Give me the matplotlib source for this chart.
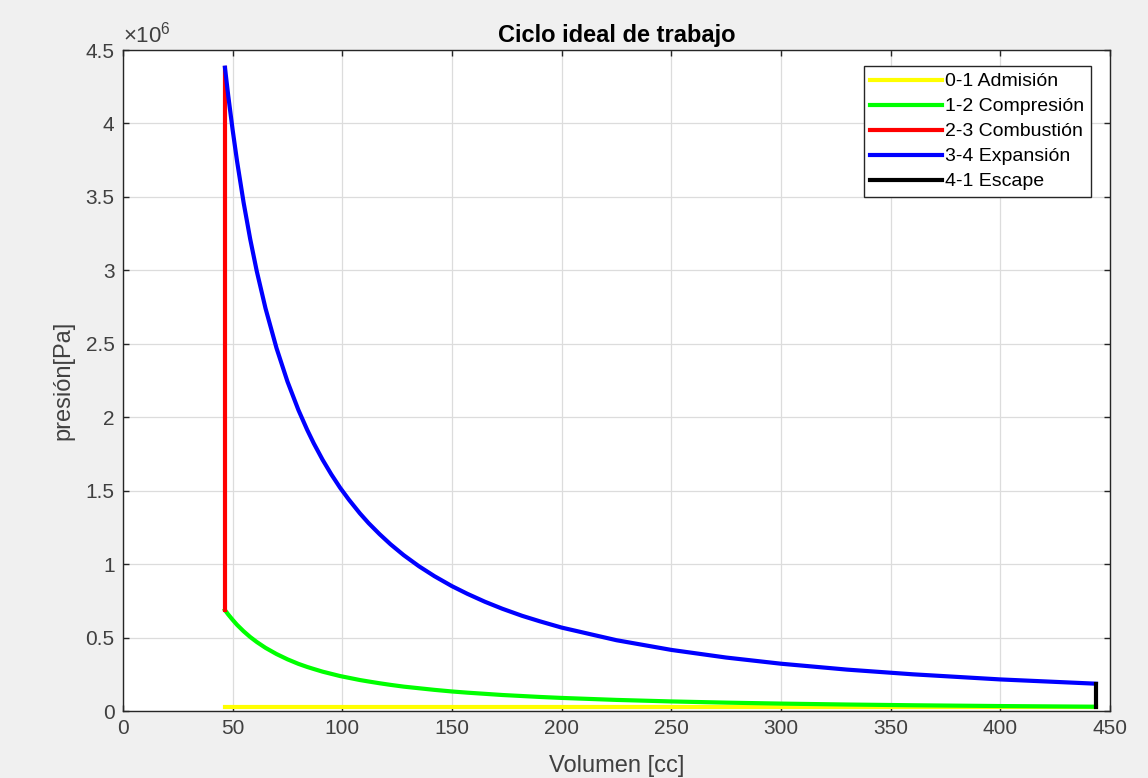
import matplotlib
matplotlib.use("Agg")
import matplotlib.pyplot as plt
from matplotlib.ticker import FixedLocator, FuncFormatter

plt.rcParams['font.family'] = ['Liberation Sans', 'DejaVu Sans']
plt.rcParams['mathtext.fontset'] = 'custom'
plt.rcParams['mathtext.rm'] = 'Liberation Sans'
plt.rcParams['mathtext.it'] = 'Liberation Sans'

# Volumes [cc] and pressures [Pa] of each stage of the cycle
vol_admision = [46.5, 443.6]
pres_admision = [0.0292e6, 0.0292e6]

vol_curve = [46.5, 48, 50, 52, 55, 58, 61, 65, 70, 75, 80, 84, 87, 91, 95,
             99, 103, 108, 112, 117, 122, 128, 135, 142, 150, 157, 165,
             173, 182, 190, 200, 225, 250, 275, 300, 330, 360, 400, 443.6]
pres_compresion = [0.687e6, 0.657e6, 0.621e6, 0.587e6, 0.543e6, 0.504e6,
                   0.470e6, 0.430e6, 0.388e6, 0.352e6, 0.321e6, 0.300e6,
                   0.286e6, 0.268e6, 0.253e6, 0.238e6, 0.226e6, 0.211e6,
                   0.201e6, 0.189e6, 0.178e6, 0.166e6, 0.155e6, 0.144e6,
                   0.133e6, 0.125e6, 0.117e6, 0.109e6, 0.102e6, 0.0958e6,
                   0.0891e6, 0.0756e6, 0.0652e6, 0.0571e6, 0.0505e6,
                   0.0442e6, 0.0392e6, 0.0338e6, 0.0292e6]

vol_combustion = [46.5, 46.5]
pres_combustion = [0.687e6, 4.38e6]

pres_expansion = [4.380e6, 4.189e6, 3.957e6, 3.745e6, 3.462e6, 3.214e6,
                  2.995e6, 2.741e6, 2.471e6, 2.243e6, 2.049e6, 1.914e6,
                  1.822e6, 1.711e6, 1.611e6, 1.520e6, 1.439e6, 1.346e6,
                  1.279e6, 1.204e6, 1.135e6, 1.061e6, 0.985e6, 0.918e6,
                  0.850e6, 0.798e6, 0.744e6, 0.696e6, 0.648e6, 0.611e6,
                  0.568e6, 0.482e6, 0.416e6, 0.364e6, 0.322e6, 0.282e6,
                  0.250e6, 0.215e6, 0.186e6]

vol_escape = [443.6, 443.6]
pres_escape = [0.186e6, 0.0292e6]

labels = ['0-1 Admisión', '1-2 Compresión', '2-3 Combustión',
          '3-4 Expansión', '4-1 Escape']
colors = ['#FFFF00', '#00FF00', '#FF0000', '#0000FF', '#000000']

x_ticks = [0, 50, 100, 150, 200, 250, 300, 350, 400, 450]
y_ticks = [0, 0.5e6, 1e6, 1.5e6, 2e6, 2.5e6, 3e6, 3.5e6, 4e6, 4.5e6]

fig = plt.figure(figsize=(11.48, 7.78), dpi=100, facecolor='#F0F0F0')
ax = fig.add_axes([0.1071, 0.0861, 0.8598, 0.8496])
ax.set_facecolor('white')

lw = 3.0
style = dict(lw=lw, solid_joinstyle='round')
ax.plot(vol_admision, pres_admision, color=colors[0], label=labels[0], zorder=3, **style)
ax.plot(vol_curve, pres_compresion, color=colors[1], label=labels[1], zorder=4, **style)
ax.plot(vol_combustion, pres_combustion, color=colors[2], label=labels[2], zorder=5, **style)
ax.plot(vol_curve, pres_expansion, color=colors[3], label=labels[3], zorder=6, **style)
ax.plot(vol_escape, pres_escape, color=colors[4], label=labels[4], zorder=7, **style)

ax.set_xlim(0, 450)
ax.set_ylim(0, 4.5e6)
ax.xaxis.set_major_locator(FixedLocator(x_ticks))
ax.yaxis.set_major_locator(FixedLocator(y_ticks))
ax.yaxis.set_major_formatter(FuncFormatter(lambda v, p: '%g' % (v / 1e6)))

axis_col = '#262626'
ax.grid(True, color='#DCDCDC', lw=0.9)
ax.set_axisbelow(True)
for s in ax.spines.values():
    s.set_color(axis_col)
    s.set_linewidth(1.0)
ax.tick_params(direction='in', top=True, right=True, length=4.5, width=1.0,
               colors=axis_col, labelsize=15, pad=6)
for t in ax.get_xticklabels() + ax.get_yticklabels():
    t.set_color('#404040')

ax.text(0.0, 1.004, r'$\times10^{6}$', transform=ax.transAxes,
        ha='left', va='bottom', fontsize=16, color='#404040')

ax.set_xlabel('Volumen [cc]', fontsize=17, color='#404040', labelpad=12)
ax.set_ylabel('presión[Pa]', fontsize=17, color='#404040', labelpad=8)
ax.set_title('Ciclo ideal de trabajo', fontsize=17, fontweight='bold',
             color='black', pad=6)

leg = ax.legend(loc='upper right', bbox_to_anchor=(0.981, 0.976),
                borderaxespad=0.0, fontsize=14, handlelength=3.7,
                handletextpad=0.15, labelspacing=0.38, borderpad=0.35,
                fancybox=False, framealpha=1.0, edgecolor='#262626')
leg.get_frame().set_linewidth(1.0)

fig.savefig('out.png', dpi=100, facecolor=fig.get_facecolor())
